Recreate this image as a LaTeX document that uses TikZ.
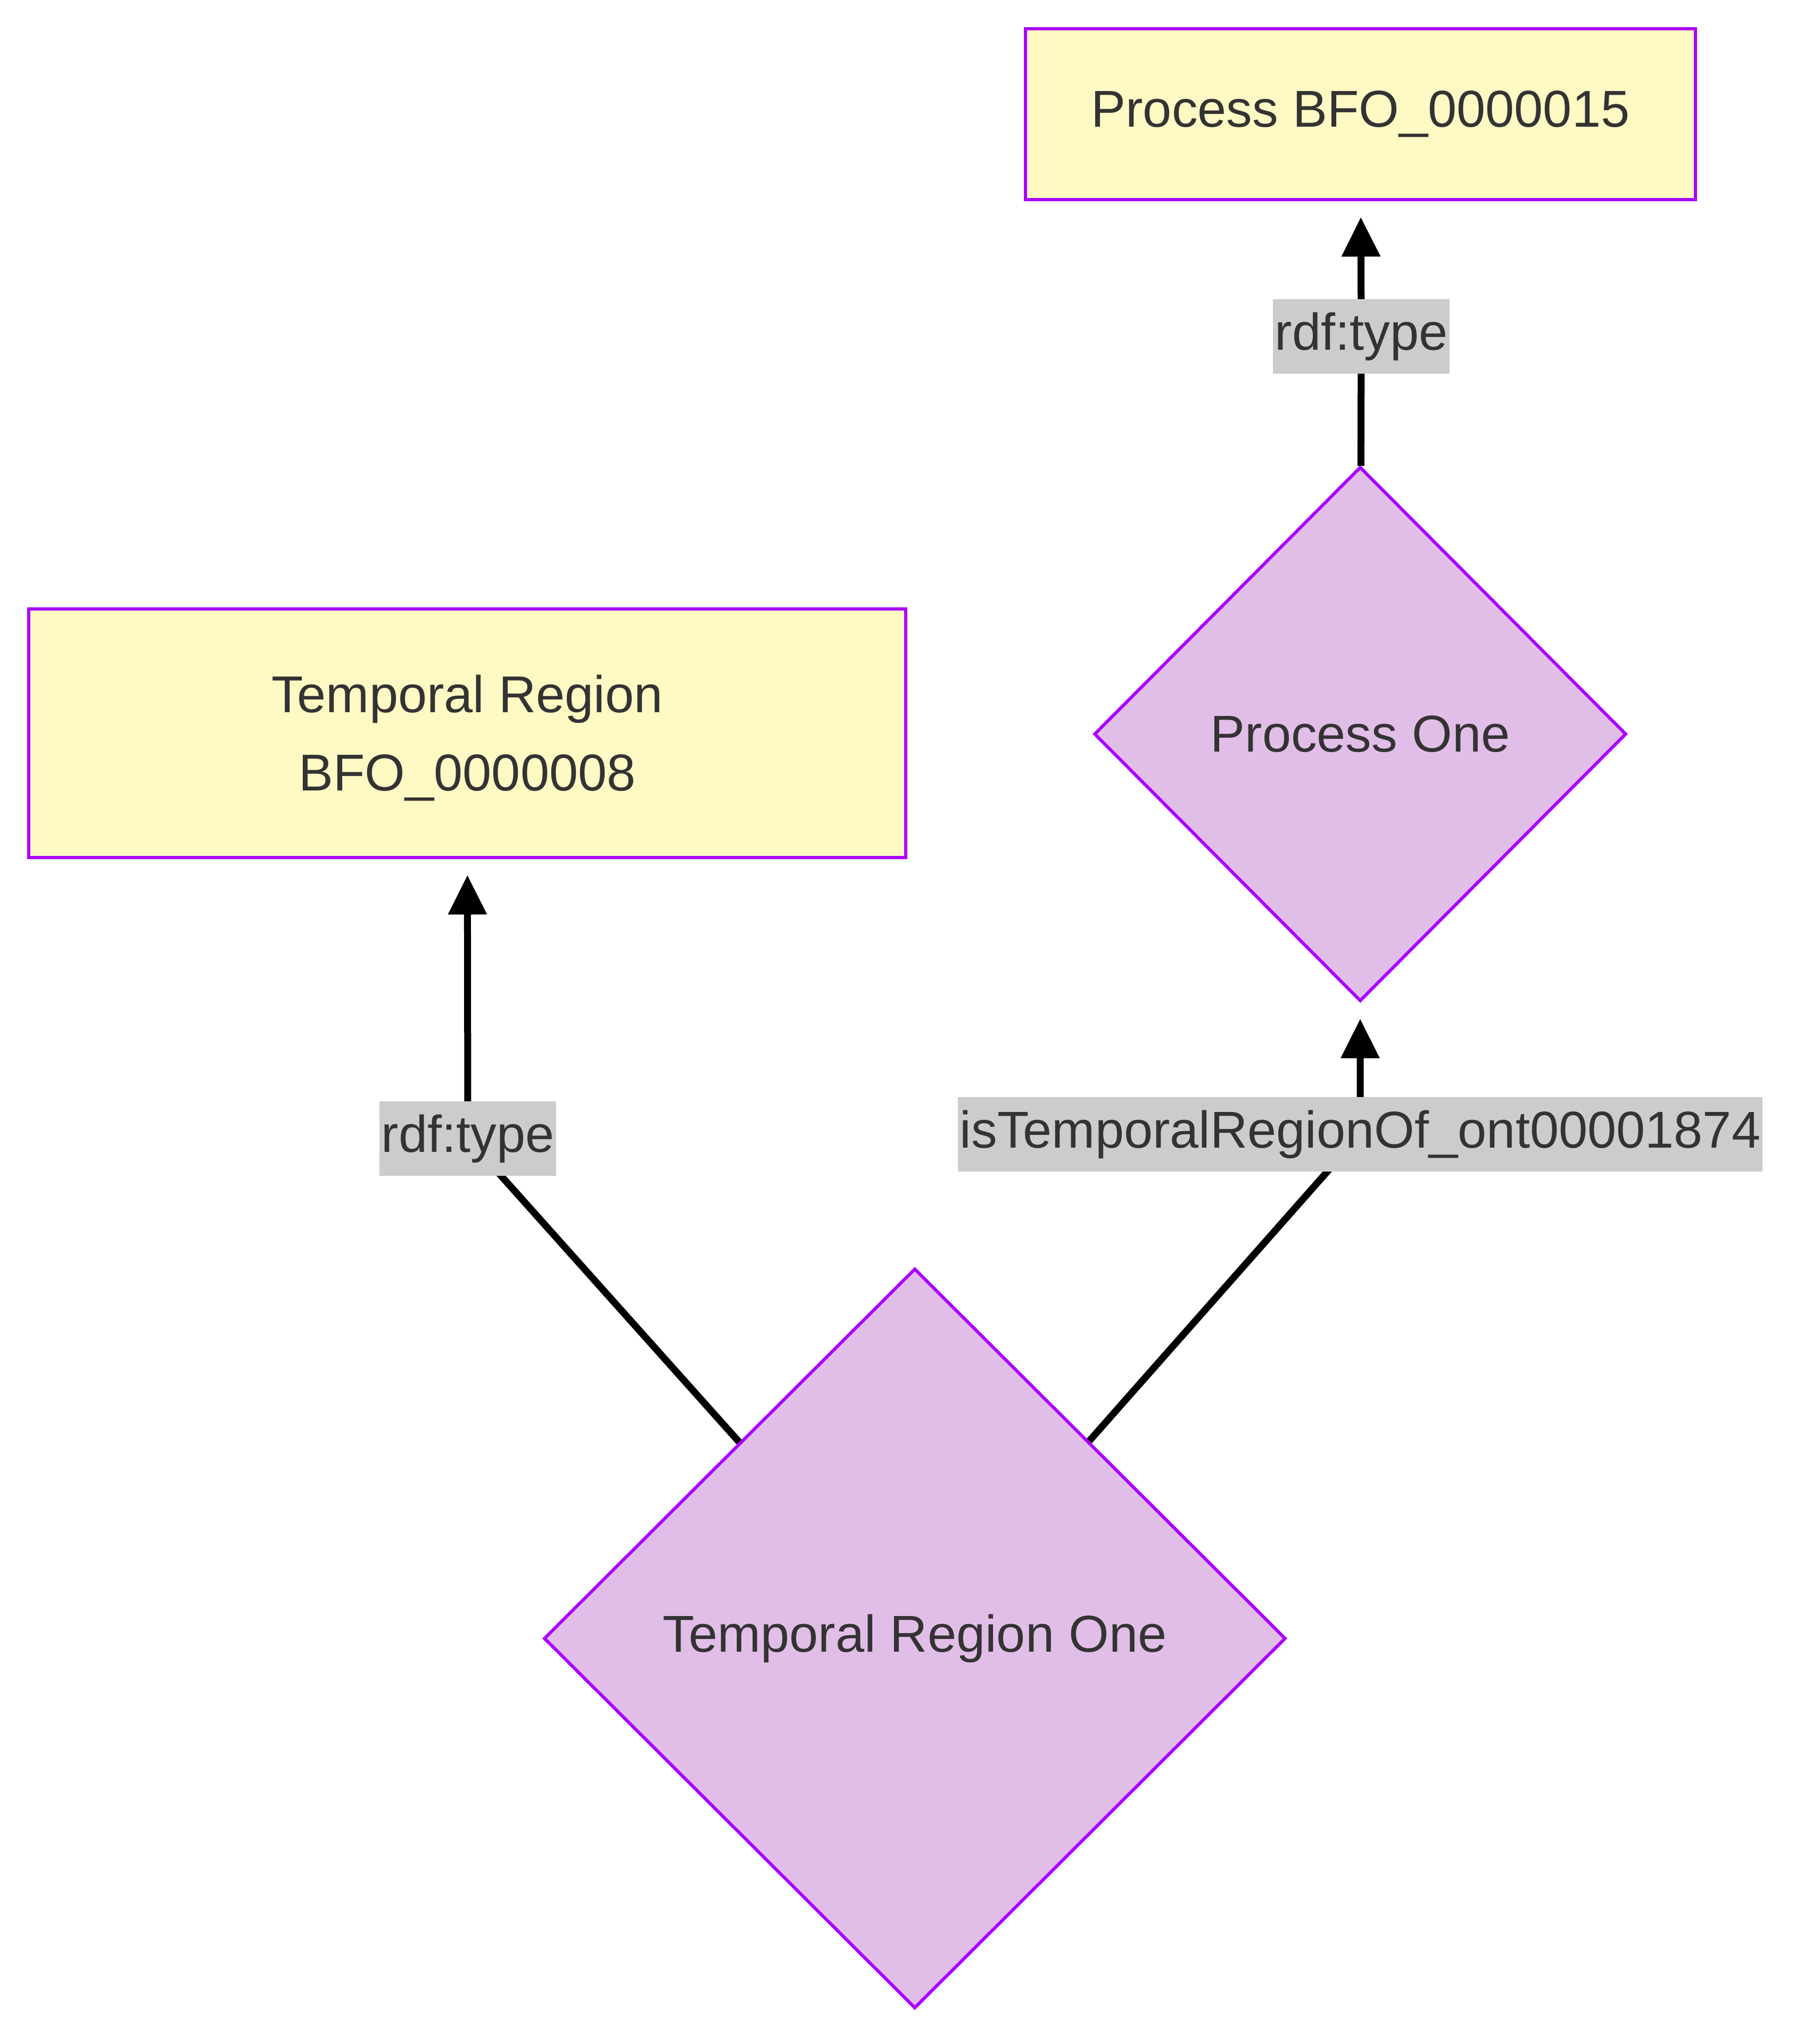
\documentclass[tikz,border=0pt]{standalone}
\usepackage{fontspec}
\setmainfont{Liberation Sans}
\usepackage{tikz}
\usetikzlibrary{shapes.geometric,arrows.meta,shadows}
\definecolor{classyellow}{RGB}{255,249,196}
\definecolor{instpurple}{RGB}{225,190,231}
\definecolor{edgeviolet}{RGB}{170,0,255}
\definecolor{labelgrey}{RGB}{204,204,204}
\definecolor{textgrey}{RGB}{51,51,51}

\begin{document}
\begin{tikzpicture}[
  classbox/.style={rectangle, draw=edgeviolet, fill=classyellow, line width=0.06cm, text=textgrey, align=center, font=\fontsize{27.7}{41.8}\selectfont, drop shadow={shadow xshift=0.03cm, shadow yshift=-0.08cm, opacity=0.08}},
  instance/.style={diamond, aspect=1, draw=edgeviolet, fill=instpurple, line width=0.06cm, text=textgrey, inner sep=0pt, font=\fontsize{27.7}{41.8}\selectfont, drop shadow={shadow xshift=0.03cm, shadow yshift=-0.08cm, opacity=0.08}},
  relabel/.style={rectangle, fill=labelgrey, text=textgrey, inner xsep=0.04cm, inner ysep=0pt, minimum height=1.40cm, font=\fontsize{27.7}{33}\selectfont},
  arrow/.style={-{Triangle[length=0.74cm, width=0.7cm]}, line width=0.13cm, black, shorten >=0.3cm}
]
\useasboundingbox (0,0) rectangle (33.89,-38.40);

% classes
\node[classbox, minimum width=12.59cm, minimum height=3.21cm] (procbfo) at (25.565,-2.145) {Process BFO\_0000015};
\node[classbox, minimum width=16.48cm, minimum height=4.67cm] (temporal) at (8.78,-13.775) {\rule{0pt}{0.9em}Temporal Region\\BFO\_0000008};

% individuals
\node[instance, minimum width=10.0cm, minimum height=10.04cm] (procone) at (25.56,-13.79) {Process One};
\node[instance, minimum width=13.94cm, minimum height=13.90cm] (trone) at (17.19,-30.78) {Temporal Region One};

% label spots
\coordinate (typeA) at (8.79,-21.39);
\coordinate (typeB) at (25.58,-6.32);
\coordinate (regionof) at (25.56,-21.31);

\draw[arrow] (trone) -- (typeA) -- (temporal);
\draw[arrow] (trone) -- (regionof) -- (procone);
\draw[arrow] (procone) -- (typeB) -- (procbfo);

\node[relabel] (typeAlbl) at (typeA) {rdf:type};
\node[relabel] (typeBlbl) at (typeB) {rdf:type};
\node[relabel] (regionoflbl) at (regionof) {isTemporalRegionOf\_ont00001874};
\end{tikzpicture}
\end{document}
